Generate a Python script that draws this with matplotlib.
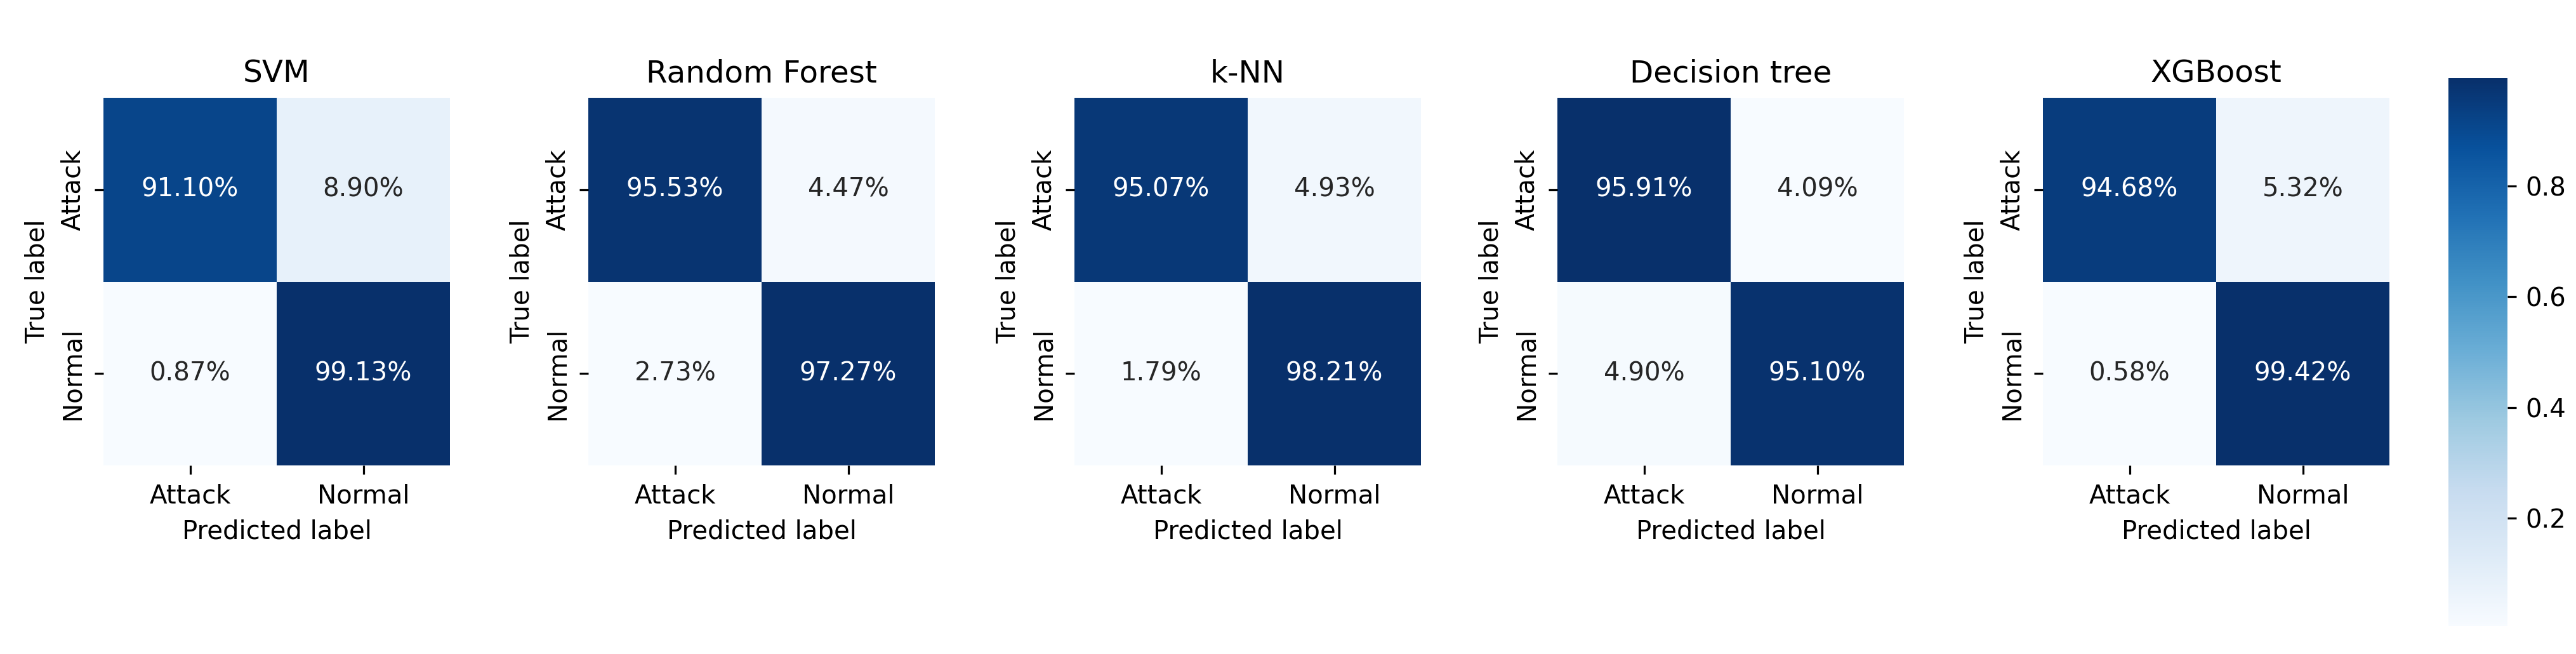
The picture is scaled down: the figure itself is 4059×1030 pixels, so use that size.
import numpy as np
import matplotlib
matplotlib.use("Agg")
import matplotlib.pyplot as plt
import seaborn as sns

# confusion matrices (row-normalised), order: Attack, Normal
models = ["SVM", "Random Forest", "k-NN", "Decision tree", "XGBoost"]
svm = [[0.9110, 0.0890], [0.0087, 0.9913]]
random_forest = [[0.9553, 0.0447], [0.0273, 0.9727]]
knn = [[0.9507, 0.0493], [0.0179, 0.9821]]
decision_tree = [[0.9591, 0.0409], [0.0490, 0.9510]]
xgboost = [[0.9468, 0.0532], [0.0058, 0.9942]]
matrices = [svm, random_forest, knn, decision_tree, xgboost]
class_labels = ["Attack", "Normal"]

W, H = 4059, 1030
DPI = 290
fig = plt.figure(figsize=(W / DPI, H / DPI), dpi=DPI)

lefts = [163, 927, 1693, 2454, 3219]
cbar_ax = fig.add_axes([3858 / W, 1 - 986 / H, 93 / W, 863 / H])

for i, (name, cm) in enumerate(zip(models, matrices)):
    ax = fig.add_axes([lefts[i] / W, 1 - 733 / H, 546 / W, 579 / H])
    last = i == len(models) - 1
    sns.heatmap(np.array(cm), annot=True, fmt=".2%", cmap="Blues",
                xticklabels=class_labels, yticklabels=class_labels,
                cbar=last, cbar_ax=cbar_ax if last else None, ax=ax)
    ax.set_title(name, fontsize=12)
    ax.set_xlabel("Predicted label")
    ax.set_ylabel("True label")
    ax.set_yticklabels(class_labels, rotation=90, va="center")
    ax.set_xticklabels(class_labels, rotation=0)

cbar_ax.tick_params(labelsize=10)
fig.savefig("out.png", dpi=DPI)
